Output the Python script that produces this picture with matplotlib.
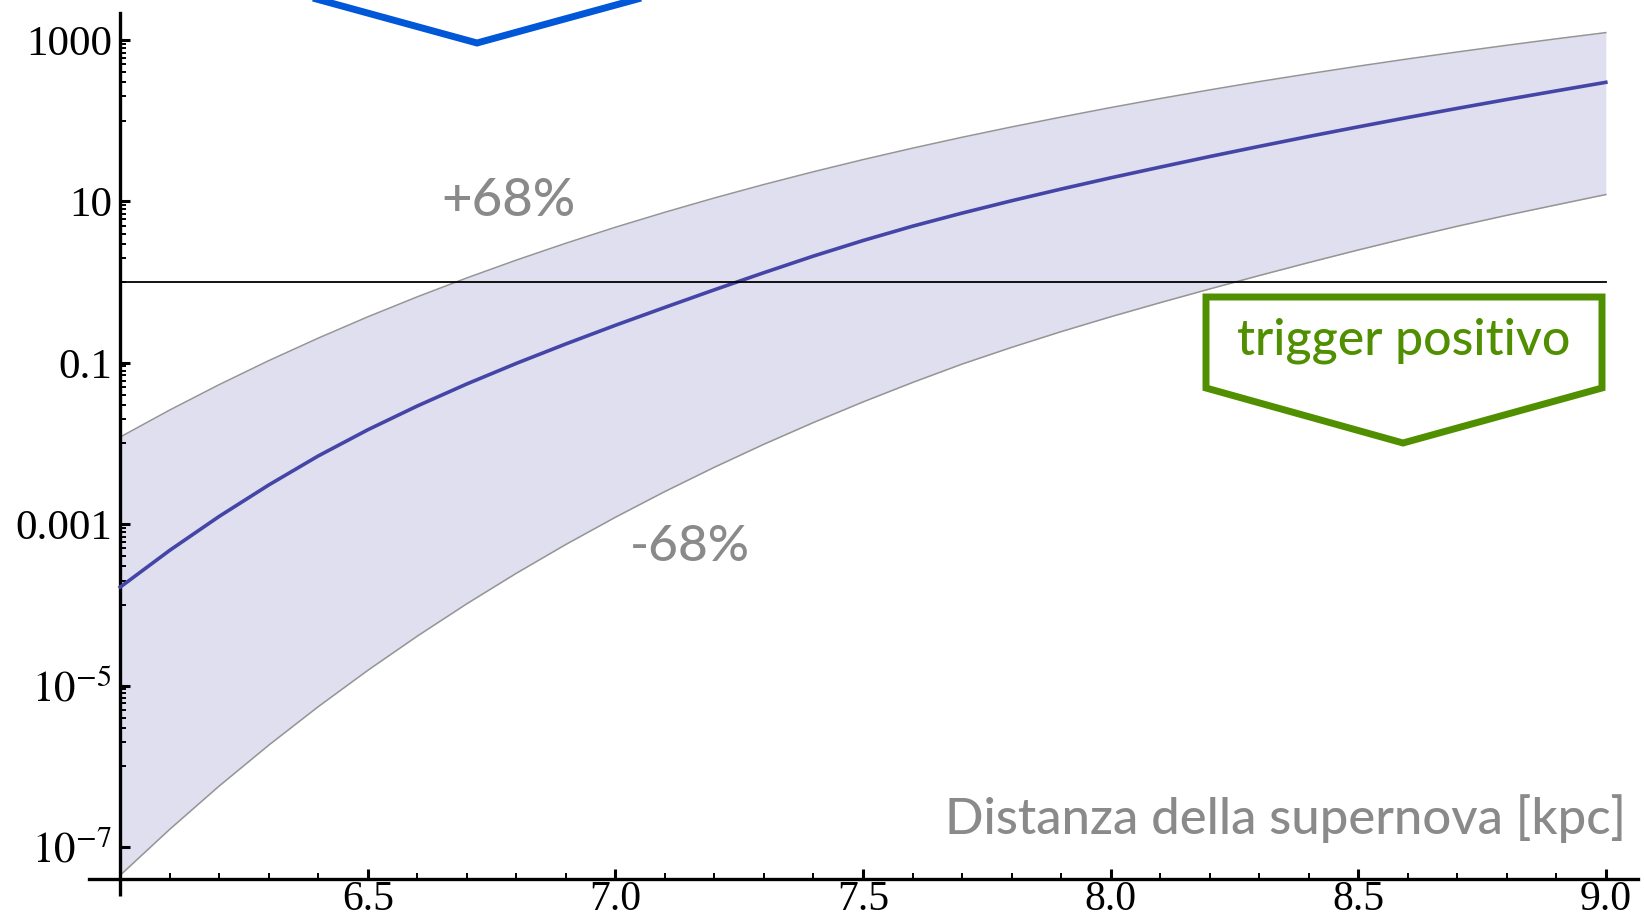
import matplotlib
matplotlib.use("Agg")
import numpy as np
import matplotlib.pyplot as plt
from matplotlib.lines import Line2D
from matplotlib.patches import Polygon
from matplotlib.ticker import FixedLocator, FixedFormatter, MultipleLocator, NullFormatter

# Supernova distance [kpc]
distance_kpc = [6.0, 6.1, 6.2, 6.3, 6.4, 6.5, 6.6, 6.7, 6.8, 6.9,
                7.0, 7.1, 7.2, 7.3, 7.4, 7.5, 7.6, 7.7, 7.8, 7.9,
                8.0, 8.1, 8.2, 8.3, 8.4, 8.5, 8.6, 8.7, 8.8, 8.9, 9.0]

# log10 of the expected signal: central estimate and 68% band
log10_central = [-3.780, -3.324, -2.903, -2.514, -2.154, -1.830, -1.535, -1.262, -1.007, -0.766,
                 -0.535, -0.313, -0.095, 0.117, 0.323, 0.515, 0.693, 0.855, 1.008, 1.153,
                 1.292, 1.425, 1.556, 1.682, 1.805, 1.924, 2.040, 2.153, 2.263, 2.370, 2.476]
log10_upper68 = [-1.920, -1.585, -1.270, -0.973, -0.694, -0.430, -0.182, 0.052, 0.273, 0.482,
                 0.680, 0.866, 1.043, 1.210, 1.368, 1.518, 1.660, 1.795, 1.923, 2.045,
                 2.163, 2.275, 2.382, 2.485, 2.582, 2.676, 2.766, 2.852, 2.935, 3.015, 3.092]
log10_lower68 = [-7.350, -6.781, -6.244, -5.738, -5.261, -4.811, -4.387, -3.986, -3.608, -3.251,
                 -2.914, -2.595, -2.294, -2.009, -1.740, -1.485, -1.244, -1.016, -0.809, -0.614,
                 -0.430, -0.255, -0.085, 0.081, 0.242, 0.398, 0.548, 0.692, 0.828, 0.957, 1.085]

trigger_threshold = 1.0

x_major_ticks = [6.5, 7.0, 7.5, 8.0, 8.5, 9.0]
x_tick_labels = ["6.5", "7.0", "7.5", "8.0", "8.5", "9.0"]
y_major_exponents = [3, 1, -1, -3, -5, -7]
y_tick_labels = ["1000", "10", "0.1", "0.001", r"$10^{-5}$", r"$10^{-7}$"]

W, H = 1644, 918
plt.rcParams["mathtext.fontset"] = "stix"

fig = plt.figure(figsize=(W / 100, H / 100), dpi=100)
ax = fig.add_axes([89 / W, 39 / H, 1549 / W, 866 / H])

d = np.array(distance_kpc)
mid = 10.0 ** np.array(log10_central)
hi = 10.0 ** np.array(log10_upper68)
lo = 10.0 ** np.array(log10_lower68)

ax.set_yscale("log")
ax.set_xlim(5.937, 9.065)
ax.set_ylim(10 ** -7.397, 10 ** 3.335)

# 68% band
ax.fill_between(d, lo, hi, color="#dfdfef", lw=0, zorder=1)
ax.plot(d, hi, color="#959595", lw=1.1, zorder=2)
ax.plot(d, lo, color="#959595", lw=1.1, zorder=2)
# central estimate
ax.plot(d, mid, color="#4545a8", lw=2.6, zorder=3)
# trigger threshold
ax.plot([d[0], d[-1]], [trigger_threshold, trigger_threshold], color="black", lw=1.3, zorder=4)

# axes in the style of a crossing frame
for s in ("top", "right"):
    ax.spines[s].set_visible(False)
ax.spines["left"].set_position(("data", 6.0))
ax.spines["left"].set_linewidth(2.4)
ax.spines["bottom"].set_linewidth(2.4)
ax.plot([6.0, 6.0], [0, -0.02], transform=ax.get_xaxis_transform(),
        color="black", lw=2.4, clip_on=False, solid_capstyle="butt")

ax.xaxis.set_major_locator(FixedLocator(x_major_ticks))
ax.xaxis.set_major_formatter(FixedFormatter(x_tick_labels))
ax.xaxis.set_minor_locator(MultipleLocator(0.1))
ax.xaxis.set_minor_formatter(NullFormatter())

y_major = [10.0 ** k for k in y_major_exponents]
y_minor = [m * 10.0 ** (k - 1) for k in y_major_exponents[:-1] for m in range(1, 10)]
ax.yaxis.set_major_locator(FixedLocator(y_major))
ax.yaxis.set_major_formatter(FixedFormatter(y_tick_labels))
ax.yaxis.set_minor_locator(FixedLocator(y_minor))
ax.yaxis.set_minor_formatter(NullFormatter())

ax.tick_params(which="major", direction="in", length=7, width=2.2, labelsize=31,
               colors="black")
ax.tick_params(which="minor", direction="in", length=4, width=1.4)
ax.tick_params(axis="x", which="major", pad=1, labelsize=30)
ax.tick_params(axis="y", which="major", pad=6)
for lab in ax.get_xticklabels() + ax.get_yticklabels():
    lab.set_fontfamily("Liberation Serif")

gray = "#8a8a8a"
label_font = "Lato"
ax.text(6.785, 10 ** 1.0, "+68%", color=gray, fontsize=38, family=label_font,
        fontweight=500, ha="center", va="center")
ax.text(7.150, 10 ** -3.283, "-68%", color=gray, fontsize=37, family=label_font,
        fontweight=500, ha="center", va="center")
ax.text(9.041, 10 ** -6.839, "Distanza della supernova [kpc]", color=gray, fontsize=36.5,
        family=label_font, fontweight=500, ha="right", va="baseline")


def px(x, y):
    return x / W, 1 - y / H


# green callout
green = "#4f8f00"
pent = [px(1206, 297), px(1602, 297), px(1602, 388), px(1403, 443), px(1206, 388)]
fig.add_artist(Polygon(pent, closed=True, fill=False, edgecolor=green, lw=5,
                       joinstyle="miter", transform=fig.transFigure))
fig.text(*px(1404, 341), "trigger positivo", color=green, fontsize=36, family=label_font,
         fontweight=500, ha="center", va="center")

# blue callout, cut by the top edge
chev = [px(247, -20), px(477, 43), px(707, -20)]
fig.add_artist(Line2D([p[0] for p in chev], [p[1] for p in chev], color="#0057d8", lw=5,
                      solid_joinstyle="miter", transform=fig.transFigure))

fig.savefig("out.png", dpi=100)
